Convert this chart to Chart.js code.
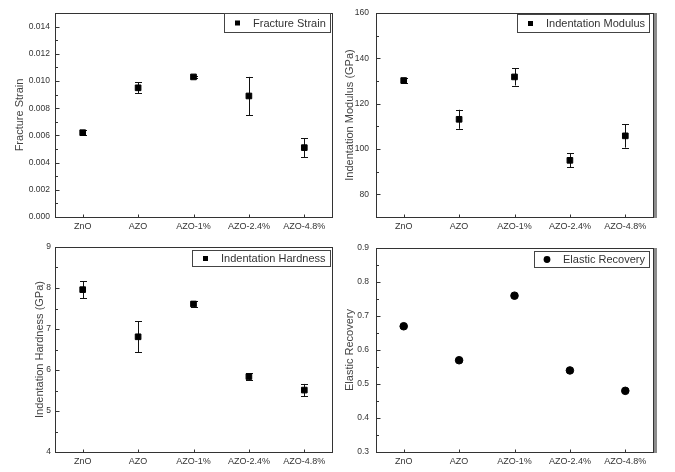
<!DOCTYPE html>
<html>
<head>
<meta charset="utf-8">
<script src="https://cdn.jsdelivr.net/npm/chart.js@4.4.1/dist/chart.umd.min.js"></script>
<style>
  html, body { margin: 0; padding: 0; background: #fff; }
  #page { position: relative; width: 675px; height: 472px; overflow: hidden; background: #fff; }
  .panel { position: absolute; }
</style>
</head>
<body>
<div id="page">
  <div class="panel" style="left:0;top:0;width:337px;height:236px"><canvas id="strain-chart"></canvas></div>
  <div class="panel" style="left:337px;top:0;width:338px;height:236px"><canvas id="modulus-chart"></canvas></div>
  <div class="panel" style="left:0;top:236px;width:337px;height:236px"><canvas id="hardness-chart"></canvas></div>
  <div class="panel" style="left:337px;top:236px;width:338px;height:236px"><canvas id="recovery-chart"></canvas></div>
</div>
<script>
// Nanoindentation results for ZnO / AZO films

const categories = ['ZnO', 'AZO', 'AZO-1%', 'AZO-2.4%', 'AZO-4.8%'];

const fractureStrain = [0.0062, 0.0095, 0.0103, 0.0089, 0.0051];
const fractureStrainErr = [0.0002, 0.0004, 0.0001, 0.0014, 0.0007];

const indentationModulus = [130.2, 113.1, 131.8, 95.0, 105.8];
const indentationModulusErr = [1.2, 4.2, 3.8, 3.1, 5.2];

const indentationHardness = [7.96, 6.81, 7.61, 5.84, 5.51];
const indentationHardnessErr = [0.21, 0.38, 0.07, 0.08, 0.15];

const elasticRecovery = [0.67, 0.57, 0.76, 0.54, 0.48];

const strainTicks = [0, 0.002, 0.004, 0.006, 0.008, 0.010, 0.012, 0.014];
const modulusTicks = [80, 100, 120, 140, 160];
const hardnessTicks = [4, 5, 6, 7, 8, 9];
const recoveryTicks = [0.3, 0.4, 0.5, 0.6, 0.7, 0.8, 0.9];

const FONT = '"Liberation Sans", Arial, sans-serif';

// vertical error bars with caps
const errorBarPlugin = {
    id: 'errorBars',
    beforeDatasetsDraw(chart) {
        const ctx = chart.ctx;
        const yScale = chart.scales.y;
        chart.data.datasets.forEach((ds, i) => {
            if (!ds.errors) return;
            const meta = chart.getDatasetMeta(i);
            ctx.save();
            ctx.strokeStyle = '#111';
            ctx.lineWidth = 1;
            meta.data.forEach((pt, j) => {
                const err = ds.errors[j];
                if (!err) return;
                const x = Math.round(pt.x) + 0.5;
                const yTop = yScale.getPixelForValue(ds.data[j] + err);
                const yBot = yScale.getPixelForValue(ds.data[j] - err);
                ctx.beginPath();
                ctx.moveTo(x, yTop);
                ctx.lineTo(x, yBot);
                ctx.moveTo(x - 3.5, Math.round(yTop) + 0.5);
                ctx.lineTo(x + 3.5, Math.round(yTop) + 0.5);
                ctx.moveTo(x - 3.5, Math.round(yBot) + 0.5);
                ctx.lineTo(x + 3.5, Math.round(yBot) + 0.5);
                ctx.stroke();
            });
            ctx.restore();
        });
    }
};

// box frame, inward ticks and the boxed legend inside the plot
const panelFramePlugin = {
    id: 'panelFrame',
    afterDraw(chart, args, opts) {
        const ctx = chart.ctx;
        const a = chart.chartArea;
        const xScale = chart.scales.x;
        const yScale = chart.scales.y;
        const L = Math.round(a.left) + 0.5;
        const R = Math.round(a.right) + 0.5;
        const T = Math.round(a.top) + 0.5;
        const B = Math.round(a.bottom) + 0.5;

        ctx.save();
        ctx.strokeStyle = '#333';
        ctx.lineWidth = 1;
        ctx.strokeRect(L, T, R - L, B - T);

        if (opts.shade) {
            ctx.fillStyle = '#8c8c8c';
            ctx.fillRect(R + 0.5, T - 0.5, 3, B - T + 1);
        }

        // y ticks, major and minor, pointing in
        ctx.beginPath();
        const majors = yScale.ticks.map(t => t.value);
        majors.forEach(v => {
            const y = Math.round(yScale.getPixelForValue(v)) + 0.5;
            ctx.moveTo(L, y);
            ctx.lineTo(L + 4, y);
        });
        const n = Math.round((yScale.max - yScale.min) / opts.minorStep);
        for (let k = 0; k <= n; k++) {
            const v = yScale.min + k * opts.minorStep;
            if (majors.some(m => Math.abs(m - v) < opts.minorStep / 10)) continue;
            const y = Math.round(yScale.getPixelForValue(v)) + 0.5;
            ctx.moveTo(L, y);
            ctx.lineTo(L + 2.5, y);
        }
        // x ticks at each category
        xScale.ticks.forEach((t, i) => {
            const x = Math.round(xScale.getPixelForTick(i)) + 0.5;
            ctx.moveTo(x, B);
            ctx.lineTo(x, B - 3);
        });
        ctx.stroke();

        // legend
        const ds = chart.data.datasets[0];
        ctx.font = '11px ' + FONT;
        const tw = ctx.measureText(ds.label).width;
        const w = Math.round(29 + tw + 4);
        const h = opts.legend.h;
        const right = Math.round(a.right - opts.legend.dx);
        const left = right - w;
        const top = Math.round(a.top + opts.legend.dy);
        ctx.fillStyle = '#fff';
        ctx.fillRect(left, top, w, h);
        ctx.strokeStyle = '#444';
        ctx.strokeRect(left + 0.5, top + 0.5, w, h);
        const my = top + h / 2 + 0.5;
        ctx.fillStyle = '#000';
        if (ds.pointStyle === 'circle') {
            ctx.beginPath();
            ctx.arc(left + 13, my, 3.4, 0, Math.PI * 2);
            ctx.fill();
        } else {
            ctx.fillRect(left + 11, my - 2.5, 5, 5);
        }
        ctx.fillStyle = '#333';
        ctx.textBaseline = 'middle';
        ctx.textAlign = 'left';
        ctx.fillText(ds.label, left + 29, my + 0.5);
        ctx.restore();
    }
};

function makePanel(id, cfg) {
    return new Chart(document.getElementById(id).getContext('2d'), {
        type: 'line',
        data: {
            labels: categories,
            datasets: [{
                label: cfg.label,
                data: cfg.values,
                errors: cfg.errors,
                showLine: false,
                pointStyle: cfg.pointStyle,
                pointRadius: cfg.radius,
                pointBackgroundColor: '#000',
                pointBorderColor: '#000',
                pointBorderWidth: 1,
            }],
        },
        options: {
            responsive: true,
            maintainAspectRatio: false,
            animation: false,
            layout: { padding: { left: cfg.padLeft, top: cfg.plotTop, right: cfg.padRight, bottom: 0 } },
            plugins: {
                legend: { display: false },
                tooltip: { enabled: false },
                panelFrame: { minorStep: cfg.minorStep, shade: cfg.shade, legend: cfg.legend },
            },
            scales: {
                x: {
                    offset: true,
                    grid: { display: false, drawTicks: false },
                    border: { display: false },
                    ticks: { font: { family: FONT, size: 9 }, color: '#333', padding: 4, maxRotation: 0, autoSkip: false },
                    afterFit: s => { s.height = cfg.xAxisHeight; },
                },
                y: {
                    min: cfg.min,
                    max: cfg.max,
                    bounds: 'data',
                    grid: { display: false, drawTicks: false },
                    border: { display: false },
                    ticks: {
                        font: { family: FONT, size: 8.5 },
                        color: '#333',
                        padding: cfg.tickPad,
                        callback: v => Number(v).toFixed(cfg.decimals),
                    },
                    afterBuildTicks: s => { s.ticks = cfg.ticks.map(v => ({ value: v })); },
                    afterFit: s => { s.width = cfg.axisWidth; },
                    title: {
                        display: true,
                        text: cfg.title,
                        font: { family: FONT, size: 11 },
                        color: '#444',
                        padding: { top: 0, bottom: 0 },
                    },
                },
            },
        },
        plugins: [errorBarPlugin, panelFramePlugin],
    });
}

makePanel('strain-chart', {
    label: 'Fracture Strain', title: 'Fracture Strain',
    values: fractureStrain, errors: fractureStrainErr,
    pointStyle: 'rect', radius: 4,
    min: 0, max: 0.015, ticks: strainTicks, decimals: 3, minorStep: 0.001,
    padLeft: 13, axisWidth: 42, padRight: 4, plotTop: 13, xAxisHeight: 19, tickPad: 5,
    shade: false, legend: { dx: 2, dy: 0, h: 19 },
});

makePanel('modulus-chart', {
    label: 'Indentation Modulus', title: 'Indentation Modulus (GPa)',
    values: indentationModulus, errors: indentationModulusErr,
    pointStyle: 'rect', radius: 4,
    min: 70, max: 160, ticks: modulusTicks, decimals: 0, minorStep: 10,
    padLeft: 6, axisWidth: 33, padRight: 22, plotTop: 13, xAxisHeight: 19, tickPad: 7,
    shade: true, legend: { dx: 4, dy: 0.5, h: 18 },
});

makePanel('hardness-chart', {
    label: 'Indentation Hardness', title: 'Indentation Hardness (GPa)',
    values: indentationHardness, errors: indentationHardnessErr,
    pointStyle: 'rect', radius: 4,
    min: 4, max: 9, ticks: hardnessTicks, decimals: 0, minorStep: 0.5,
    padLeft: 33, axisWidth: 22, padRight: 4, plotTop: 11, xAxisHeight: 20, tickPad: 4,
    shade: false, legend: { dx: 2, dy: 3, h: 16 },
});

makePanel('recovery-chart', {
    label: 'Elastic Recovery', title: 'Elastic Recovery',
    values: elasticRecovery, errors: null,
    pointStyle: 'circle', radius: 3.8,
    min: 0.3, max: 0.9, ticks: recoveryTicks, decimals: 1, minorStep: 0.05,
    padLeft: 6, axisWidth: 33, padRight: 22, plotTop: 11, xAxisHeight: 20, tickPad: 7,
    shade: true, legend: { dx: 4, dy: 3, h: 16 },
});
</script>
</body>
</html>
